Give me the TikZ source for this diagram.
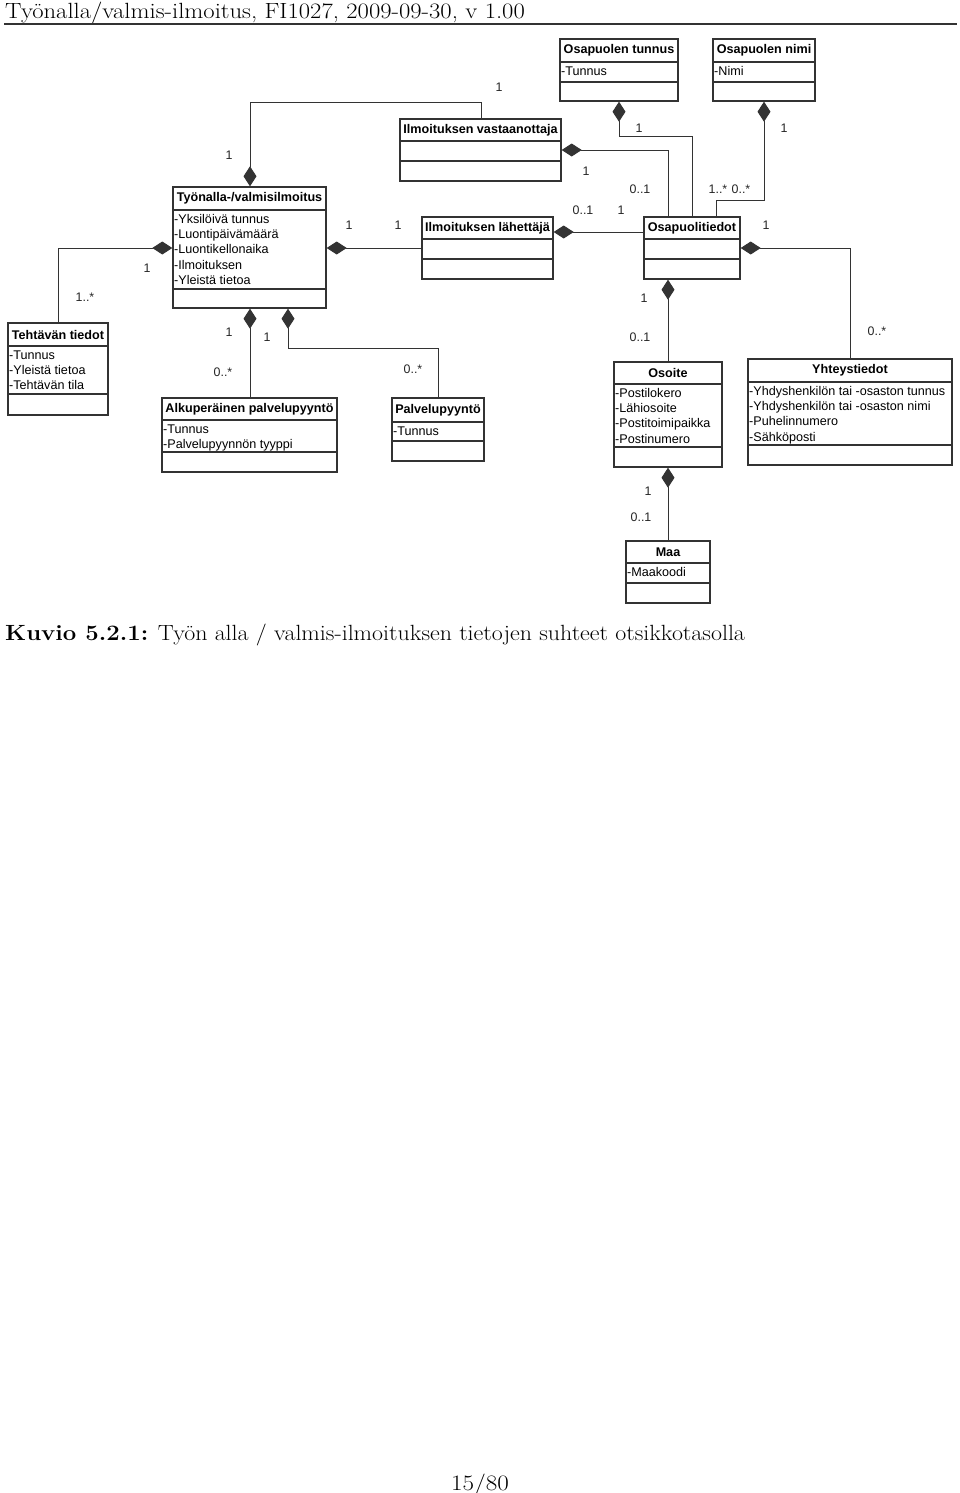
\documentclass[tikz,border=0pt]{standalone}
\usepackage{fontspec}
\newfontfamily\diafont{Liberation Sans}
\usetikzlibrary{arrows.meta}
\definecolor{lncol}{HTML}{333333}
\tikzset{
  box/.style={draw=lncol, line width=1.4pt, inner sep=0pt, fill=white},
  sep/.style={draw=lncol, line width=1.4pt},
  conn/.style={draw=lncol, line width=1pt},
  dmd/.style={{Diamond[length=20pt,width=13pt]}-},
  ttl/.style={font=\diafont\bfseries\fontsize{12.6}{14}\selectfont, inner sep=0pt},
  att/.style={font=\diafont\fontsize{12.6}{15.2}\selectfont, align=left, anchor=north west, inner xsep=1pt, inner ysep=1.6pt},
  mul/.style={font=\diafont\fontsize{12.4}{14}\selectfont, text=black!85, inner sep=0pt},
  pagetxt/.style={font=\fontsize{22}{25}\selectfont, inner sep=0pt}
}
% #1 name #2 x1 #3 y1 #4 x2 #5 y2 #6 line1 #7 line2 #8 title #9 attributes
\newcommand{\umlbox}[9]{%
  \node[box, minimum width={#4-#2}, minimum height={#5-#3}] (#1) at ({(#2+#4)/2},{(#3+#5)/2}) {};
  \draw[sep] (#2,#6) -- (#4,#6);
  \draw[sep] (#2,#7) -- (#4,#7);
  \node[ttl] (#1-t) at ({(#2+#4)/2},{(#3+#6)/2}) {#8};
  \node[att] (#1-a) at (#2,#6+1) {\strut#9};
}
\begin{document}
\begin{tikzpicture}[x=1pt,y=-1pt]
\useasboundingbox (0,0) rectangle (960,1493);
\fill[white] (0,0) rectangle (960,1493);
% header
\node[pagetxt, anchor=base west] (hdr) at (5,19) {\scalebox{1.12}[1]{Työnalla/valmis-ilmoitus, FI1027, 2009-09-30, v 1.00}};
\draw[line width=1.5pt, lncol] (4,24) coordinate (hl) -- (957,24) coordinate (hr);
% classes
\umlbox{otun}{560}{39}{678}{101}{62}{82}{Osapuolen tunnus}{-Tunnus}
\umlbox{onimi}{713}{39}{815}{101}{62}{82}{Osapuolen nimi}{-Nimi}
\umlbox{vast}{400}{119}{561}{181}{141}{161}{Ilmoituksen vastaanottaja}{}
\umlbox{tyo}{173}{187}{326}{308}{210}{289}{Työnalla-/valmisilmoitus}{-Yksilöivä tunnus\\-Luontipäivämäärä\\-Luontikellonaika\\-Ilmoituksen\\-Yleistä tietoa}
\umlbox{lah}{422}{217}{553}{279}{239}{259}{Ilmoituksen lähettäjä}{}
\umlbox{opt}{644}{217}{740}{279}{239}{259}{Osapuolitiedot}{}
\umlbox{teht}{8}{323}{108}{415}{346}{394}{Tehtävän tiedot}{-Tunnus\\-Yleistä tietoa\\-Tehtävän tila}
\umlbox{alk}{162}{398}{337}{472}{420}{452}{Alkuperäinen palvelupyyntö}{-Tunnus\\-Palvelupyynnön tyyppi}
\umlbox{palv}{392}{398}{484}{461}{422}{441}{Palvelupyyntö}{-Tunnus}
\umlbox{oso}{614}{362}{722}{467}{384}{447}{Osoite}{-Postilokero\\-Lähiosoite\\-Postitoimipaikka\\-Postinumero}
\umlbox{yht}{748}{359}{952}{465}{382}{445}{Yhteystiedot}{-Yhdyshenkilön tai -osaston tunnus\\-Yhdyshenkilön tai -osaston nimi\\-Puhelinnumero\\-Sähköposti}
\umlbox{maa}{626}{541}{710}{603}{563}{583}{Maa}{-Maakoodi}
% connectors
\draw[conn, dmd] (250,0 |- tyo.north) |- (481,103) -- (481,0 |- vast.north);
\draw[conn, dmd] (tyo.east |- 0,248) -- (lah.west |- 0,248);
\draw[conn, dmd] (tyo.west |- 0,248) -| (teht.north -| 58,0);
\draw[conn, dmd] (250,0 |- tyo.south) -- (250,0 |- alk.north);
\draw[conn, dmd] (288,0 |- tyo.south) |- (438,348) -- (438,0 |- palv.north);
\draw[conn, dmd] (vast.east |- 0,150) -| (668,0 |- opt.north);
\draw[conn, dmd] (lah.east |- 0,232) -- (opt.west |- 0,232);
\draw[conn, dmd] (619,0 |- otun.south) |- (692,137) -- (692,0 |- opt.north);
\draw[conn, dmd] (764,0 |- onimi.south) |- (716,200) -- (716,0 |- opt.north);
\draw[conn, dmd] (opt.east |- 0,248) -| (850,0 |- yht.north);
\draw[conn, dmd] (668,0 |- opt.south) -- (668,0 |- oso.north);
\draw[conn, dmd] (668,0 |- oso.south) -- (668,0 |- maa.north);
% multiplicities
\node[mul] (m1) at (499,87) {1};
\node[mul] (m2) at (229,155) {1};
\node[mul] (m3) at (349,225) {1};
\node[mul] (m4) at (398,225) {1};
\node[mul] (m5) at (639,128) {1};
\node[mul] (m6) at (784,128) {1};
\node[mul] (m7) at (586,171) {1};
\node[mul] (m8) at (640,189) {0..1};
\node[mul] (m9) at (718,189) {1..*};
\node[mul] (m10) at (741,189) {0..*};
\node[mul] (m11) at (583,210) {0..1};
\node[mul] (m12) at (621,210) {1};
\node[mul] (m13) at (766,225) {1};
\node[mul] (m14) at (644,298) {1};
\node[mul] (m15) at (147,268) {1};
\node[mul] (m16) at (85,297) {1..*};
\node[mul] (m17) at (229,332) {1};
\node[mul] (m18) at (267,337) {1};
\node[mul] (m19) at (223,372) {0..*};
\node[mul] (m20) at (413,369) {0..*};
\node[mul] (m21) at (640,337) {0..1};
\node[mul] (m22) at (877,331) {0..*};
\node[mul] (m23) at (648,491) {1};
\node[mul] (m24) at (641,517) {0..1};
% caption
\node[pagetxt, anchor=base west] (cap) at (5,640) {\scalebox{1.088}[1]{\textbf{Kuvio 5.2.1:} Työn alla / valmis-ilmoituksen tietojen suhteet otsikkotasolla}};
\node[pagetxt, anchor=base] (pg) at (480,1490) {\scalebox{1.14}[1]{15/80}};
\end{tikzpicture}
\end{document}
